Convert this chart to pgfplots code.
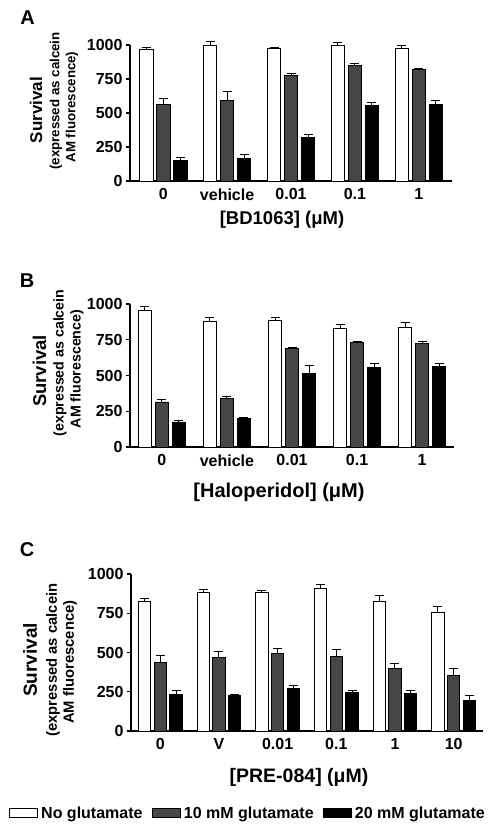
\documentclass[border=0pt]{standalone}
\usepackage{pgfplots}
\pgfplotsset{compat=1.18}
\usepackage{fontspec}
\setmainfont{Liberation Sans}
\definecolor{darkbar}{RGB}{70,70,70}
\newcommand{\fs}[1]{\fontsize{#1}{#1}\selectfont\bfseries}
\pgfplotsset{
  panel/.style={
    scale only axis, ybar=3.5pt, bar width=13.5pt,
    axis lines=left, axis line style={-, line width=1.2pt},
    ymin=0, ymax=1000, ytick={0,250,500,750,1000},
    tick align=outside, major tick length=4pt,
    ytick style={line width=1.2pt, black},
    xtick style={draw=none},
    tick label style={font=\fs{16}},
    /pgf/number format/assume math mode=true,
    /pgf/number format/1000 sep={},
    clip=false,
    error bars/y dir=plus, error bars/y explicit,
    error bars/error bar style={line width=1pt, black},
    error bars/error mark options={rotate=90, black, line width=1pt, mark size=4.5pt},
    xlabel style={at={(axis description cs:0.5,0)}, anchor=center},
  },
  wbar/.style={fill=white, draw=black, line width=0.9pt},
  gbar/.style={fill=darkbar, draw=black, line width=0.9pt},
  kbar/.style={fill=black, draw=black, line width=0.9pt},
  boxleg/.style={legend image code/.code={\draw[##1, line width=1.3pt] (0pt,-4.5pt) rectangle (28pt,4.5pt);}},
}
\begin{document}
\begin{tikzpicture}
\path[use as bounding box] (0,0) rectangle (497pt,-829pt);

% ---------------- Panel A ----------------
\begin{axis}[panel, at={(130pt,-181pt)}, anchor=south west,
  width=322pt, height=136pt, xmin=-0.52, xmax=4.52,
  xtick={0,1,2,3,4}, xticklabels={0,vehicle,0.01,0.1,1},
  xlabel={[BD1063] (μM)}, xlabel style={font=\fs{18.5}, yshift=-39pt, xshift=-9pt}]
\addplot[wbar] coordinates {(0,965) +- (0,20) (1,1000) +- (0,25) (2,975) +- (0,8) (3,1000) +- (0,18) (4,975) +- (0,22)};
\addplot[gbar] coordinates {(0,565) +- (0,40) (1,595) +- (0,65) (2,775) +- (0,17) (3,848) +- (0,14) (4,818) +- (0,10)};
\addplot[kbar] coordinates {(0,150) +- (0,25) (1,168) +- (0,28) (2,320) +- (0,22) (3,555) +- (0,22) (4,562) +- (0,33)};
\end{axis}

% ---------------- Panel B ----------------
\begin{axis}[panel, at={(130pt,-447pt)}, anchor=south west,
  width=324pt, height=143pt, xmin=-0.49, xmax=4.49,
  xtick={0,1,2,3,4}, xticklabels={0,vehicle,0.01,0.1,1},
  xlabel={[Haloperidol] (μM)}, xlabel style={font=\fs{20}, yshift=-45pt, xshift=-13pt}]
\addplot[wbar] coordinates {(0,952) +- (0,30) (1,880) +- (0,28) (2,888) +- (0,19) (3,830) +- (0,26) (4,837) +- (0,35)};
\addplot[gbar] coordinates {(0,315) +- (0,16) (1,340) +- (0,12) (2,686) +- (0,9) (3,728) +- (0,7) (4,721) +- (0,19)};
\addplot[kbar] coordinates {(0,175) +- (0,7) (1,200) +- (0,9) (2,514) +- (0,58) (3,556) +- (0,30) (4,565) +- (0,18)};
\end{axis}

% ---------------- Panel C ----------------
\begin{axis}[panel, at={(131pt,-731pt)}, anchor=south west,
  width=352pt, height=157pt, xmin=-0.5, xmax=5.5,
  bar width=12.3pt, ybar=3.4pt,
  xtick={0,1,2,3,4,5}, xticklabels={0,V,0.01,0.1,1,10},
  xlabel={[PRE-084] (μM)}, xlabel style={font=\fs{19.5}, yshift=-46pt, xshift=-8pt},
  legend columns=3,
  legend style={draw=none, fill=none, font=\fs{16},
    at={(axis description cs:0.332,-0.522)}, anchor=center,
    /tikz/every odd column/.append style={column sep=1pt},
    /tikz/every even column/.append style={column sep=7pt}},
  legend cell align=left]
\addplot[wbar, boxleg] coordinates {(0,828) +- (0,17) (1,883) +- (0,19) (2,881) +- (0,13) (3,907) +- (0,23) (4,826) +- (0,34) (5,758) +- (0,34)};
\addplot[gbar, boxleg] coordinates {(0,437) +- (0,43) (1,469) +- (0,36) (2,493) +- (0,34) (3,476) +- (0,46) (4,399) +- (0,28) (5,352) +- (0,45)};
\addplot[kbar, boxleg] coordinates {(0,234) +- (0,27) (1,227) +- (0,7) (2,270) +- (0,19) (3,248) +- (0,9) (4,240) +- (0,17) (5,193) +- (0,30)};
\legend{No glutamate, 10 mM glutamate, 20 mM glutamate}
\end{axis}

% ---------------- panel letters ----------------
\node[font=\fs{20}] at (27.5pt,-17.5pt) {A};
\node[font=\fs{20}] at (27pt,-281pt) {B};
\node[font=\fs{20}] at (27pt,-550pt) {C};

% ---------------- y axis titles ----------------
\node[rotate=90, font=\fs{17}] at (36pt,-110pt) {Survival};
\node[rotate=90, font=\fs{13.3}] at (56pt,-101pt) {(expressed as calcein};
\node[rotate=90, font=\fs{13.3}] at (72pt,-107pt) {AM fluorescence)};

\node[rotate=90, font=\fs{18.5}] at (39.5pt,-371pt) {Survival};
\node[rotate=90, font=\fs{14.2}] at (60pt,-363pt) {(expressed as calcein};
\node[rotate=90, font=\fs{14.2}] at (77pt,-369pt) {AM fluorescence)};

\node[rotate=90, font=\fs{19}] at (30pt,-660pt) {Survival};
\node[rotate=90, font=\fs{14.8}] at (53pt,-660pt) {(expressed as calcein};
\node[rotate=90, font=\fs{14.8}] at (70pt,-662pt) {AM fluorescence)};
\end{tikzpicture}
\end{document}
